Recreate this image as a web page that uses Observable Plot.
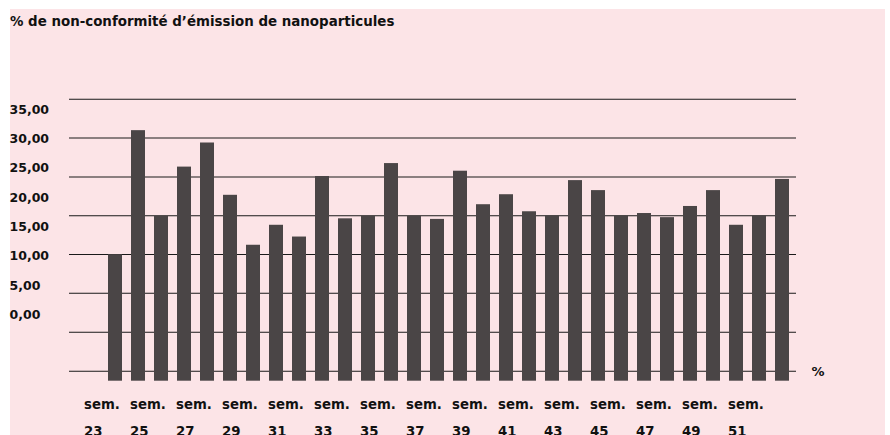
<!DOCTYPE html>
<html>
<head>
<meta charset="utf-8">
<script src="https://cdn.jsdelivr.net/npm/d3@7"></script>
<script src="https://cdn.jsdelivr.net/npm/@observablehq/plot@0.6"></script>
<style>
  html, body { margin: 0; padding: 0; background: #ffffff; width: 890px; height: 435px; overflow: hidden; }
  #bg { position: absolute; left: 10px; top: 9px; width: 875px; height: 440px; background: #fce4e7; }
  #title { position: absolute; left: 10px; top: 14px; font-family: "DejaVu Sans", sans-serif; font-weight: bold; font-size: 13.4px; line-height: 15px; color: #111; white-space: nowrap; }
  #chart { position: absolute; left: 0; top: 40px; }
  #chart svg { background: transparent; }
</style>
</head>
<body>
<div id="bg"></div>
<div id="title">% de non-conformité d’émission de nanoparticules</div>
<div id="chart"></div>
<script>
// ---- data ----
const weeks = [23, 24, 25, 26, 27, 28, 29, 30, 31, 32, 33, 34, 35, 36, 37, 38, 39, 40, 41, 42, 43, 44, 45, 46, 47, 48, 49, 50, 51, 52];
const values = [10.3, 31.4, 16.8, 25.2, 29.3, 20.4, 11.9, 15.3, 13.3, 23.6, 16.4, 16.8, 25.8, 16.8, 16.3, 24.5, 18.8, 20.5, 17.6, 16.9, 22.9, 21.2, 16.9, 17.3, 16.6, 18.5, 21.2, 15.3, 16.9, 23.1];
const yTicks = [0, 5, 10, 15, 20, 25, 30, 35];
const gridValues = [36.75, 30.15, 23.52, 16.93, 10.33, 3.74, -2.89, -9.53];
const xLabelWeeks = [23, 25, 27, 29, 31, 33, 35, 37, 39, 41, 43, 45, 47, 49, 51];
const barBase = -11.23;
const unitLabel = ["%"];

const data = weeks.map((w, i) => ({week: w, value: values[i]}));
const fmt = d => d.toFixed(2).replace(".", ",");

const chart = Plot.plot({
  width: 890,
  height: 420,
  marginLeft: 69,
  marginRight: 94,
  marginTop: 69,
  marginBottom: 79.3,
  style: {fontFamily: "'DejaVu Sans', sans-serif", fontSize: "12.5px", background: "transparent", color: "#111"},
  x: {type: "band", domain: weeks, range: [108.3, 796], paddingInner: 0.384, paddingOuter: 0, align: 0, label: null},
  y: {domain: [barBase, 35], label: null},
  marks: [
    Plot.ruleY(gridValues, {stroke: "#1a1a1a", strokeWidth: 1.1}),
    Plot.barY(data, {x: "week", y1: barBase, y2: "value", fill: "#4a4546"}),
    Plot.axisY({ticks: yTicks, tickFormat: fmt, tickSize: 0, tickPadding: 0, textAnchor: "start", dx: -60, fontWeight: "bold", fill: "#111", label: null}),
    Plot.axisX({ticks: xLabelWeeks, tickFormat: d => `sem.\n${d}`, tickSize: 0, tickPadding: 7.5, textAnchor: "start", dx: -31.45, lineHeight: 2.1, fontSize: 13.3, fontWeight: "bold", fill: "#111", label: null}),
    Plot.text(unitLabel, {text: d => d, frameAnchor: "bottom-right", textAnchor: "start", dx: 15, dy: -5, fontSize: 13, fontWeight: "bold", fill: "#111"})
  ]
});
document.getElementById("chart").appendChild(chart);
</script>
</body>
</html>
